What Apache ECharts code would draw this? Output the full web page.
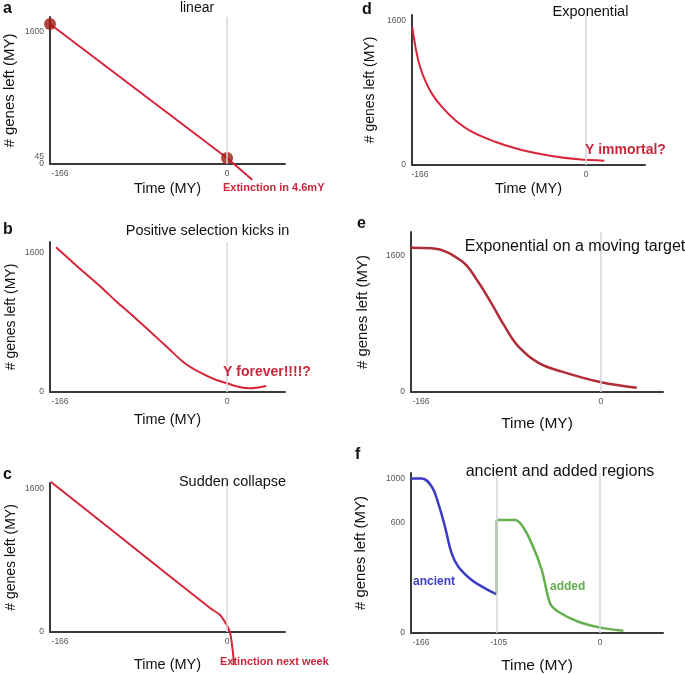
<!DOCTYPE html>
<html>
<head>
<meta charset="utf-8">
<script src="https://cdn.jsdelivr.net/npm/echarts@6/dist/echarts.min.js"></script>
<style>html,body{margin:0;padding:0;background:#fff}#c{width:685px;height:674px}</style>
</head>
<body>
<div id="c"></div>
<script>
// ---------- data ----------
// a: linear
const aTime  = [-176, 0, 25];
const aGenes = [1697, 72, -190];
const aDotTime  = [-176, 0];
const aDotGenes = [1697, 72];
// b: positive selection
const bTime  = [-170, -150, -126, -110, -93, -76, -60, -43, -27, -13, 0, 12, 23, 39];
const bGenes = [1665, 1457, 1215, 1041, 870, 690, 521, 340, 225, 150, 100, 58, 43, 69];
// c: sudden collapse
const cTime  = [-175.3, -100, -16.9, -7.0, -0.3, 3.0, 4.7, 6.3, 6.5];
const cGenes = [1681, 1010, 268, 190, 78, -11, -123, -280, -369];
// d: exponential
const dTime  = [-173.7, -171.7, -169.3, -166, -161, -154.3, -144.3, -131, -114.3, -91, -64.3, -34.3, -7.7, 18.3];
const dGenes = [1530, 1389, 1241, 1092, 944, 796, 648, 500, 370, 259, 167, 100, 63, 48];
// e: exponential on a moving target
const eTime  = [-175.5, -156, -128.5, -113, -101, -88.6, -76, -58, -36, 0, 33];
const eGenes = [1697, 1690, 1540, 1290, 1043, 768, 533, 345, 239, 114, 51];
// f: ancient and added regions
const fAncTime  = [-175.6, -165.4, -156, -150, -143.8, -137.6, -131.4, -119, -106.7, -95.8];
const fAncGenes = [1004, 1004, 950, 842, 690, 517, 431, 344, 290, 251];
const fJumpTime  = [-95.8, -95.8];
const fJumpGenes = [251, 734];
const fAddTime  = [-95.8, -78.8, -72.6, -63.4, -54, -46.4, -38.7, -20.1, 0.6, 21.6];
const fAddGenes = [734, 734, 701, 582, 409, 193, 138, 73, 35, 15];
// reference (vertical) lines
const refLinesMain = [0];
const refLinesF = [-95.8, 0];
// tick labels
const xTicks = [-166, 0];
const xTickLabels = ['-166', '0'];
const yTicks = [0, 1600];
const yTickLabels = ['0', '1600'];
const aExtraYTicks = [45];
const aExtraYTickLabels = ['45'];
const fXTicks = [-166, -94, 0];
const fXTickLabels = ['-166', '-105', '0'];
const fYTicks = [0, 714, 1000];
const fYTickLabels = ['0', '600', '1000'];

// ---------- layout ----------
const FONT = '"Liberation Sans", Arial, Helvetica, sans-serif';
const RED = '#d8253a';
const zip = (a, b) => a.map((v, i) => [v, b[i]]);

const panels = [
  {grid:{left:50, top:17, width:235, height:147}, x:[-176,57.6], y:[0,1782], xt:xTicks, xl:xTickLabels, yt:yTicks, yl:yTickLabels, xGap:17, yGap:33, xName:14.5, yName:15},
  {grid:{left:50, top:242, width:235, height:150}, x:[-176,57.6], y:[0,1726], xt:xTicks, xl:xTickLabels, yt:yTicks, yl:yTickLabels, xGap:20, yGap:32, xName:14.5, yName:14},
  {grid:{left:50, top:483, width:235, height:149}, x:[-176,57.6], y:[0,1667], xt:xTicks, xl:xTickLabels, yt:yTicks, yl:yTickLabels, xGap:25, yGap:32, xName:14.5, yName:14},
  {grid:{left:412, top:15, width:233, height:150}, x:[-174,59], y:[0,1667], xt:xTicks, xl:xTickLabels, yt:yTicks, yl:yTickLabels, xGap:16, yGap:35, xName:14.5, yName:14},
  {grid:{left:411, top:232, width:252, height:160}, x:[-175.2,57.2], y:[0,1882], xt:xTicks, xl:xTickLabels, yt:yTicks, yl:yTickLabels, xGap:24, yGap:41, xName:15.5, yName:15},
  {grid:{left:411, top:473, width:252, height:160}, x:[-175.3,58.4], y:[0,1039], xt:fXTicks, xl:fXTickLabels, yt:fYTicks, yl:fYTickLabels, xGap:25, yGap:43, xName:15.5, yName:15}
];

const axisLineStyle = {color:'#3a3a3a', width:2};
const grids = panels.map(p => Object.assign({outerBoundsMode:'none', containLabel:false}, p.grid));
const xAxes = panels.map((p, i) => ({
  type:'value', gridIndex:i, min:p.x[0], max:p.x[1],
  axisLine:{show:true, onZero:false, lineStyle:axisLineStyle},
  axisTick:{show:false}, splitLine:{show:false},
  axisLabel:{customValues:p.xt, hideOverlap:false, formatter:v => p.xl[p.xt.indexOf(v)], color:'#555', fontSize:8.5, margin:5, fontFamily:FONT},
  name:'Time (MY)', nameLocation:'middle', nameGap:p.xGap,
  nameTextStyle:{fontSize:p.xName, color:'#111', fontFamily:FONT}
}));
const yAxes = panels.map((p, i) => ({
  type:'value', gridIndex:i, min:p.y[0], max:p.y[1],
  axisLine:{show:true, onZero:false, lineStyle:axisLineStyle},
  axisTick:{show:false}, splitLine:{show:false},
  axisLabel:{customValues:p.yt, hideOverlap:false, showMinLabel:true, showMaxLabel:true,
    formatter:v => p.yl[p.yt.indexOf(v)],
    color:'#555', fontSize:8.5, margin:6, fontFamily:FONT},
  name:'# genes left (MY)', nameLocation:'middle', nameGap:p.yGap,
  nameTextStyle:{fontSize:p.yName, color:'#111', fontFamily:FONT}
}));
// extra label "45" on panel a (separate axis so it is not hidden next to "0")
yAxes.push({
  type:'value', gridIndex:0, position:'left', min:panels[0].y[0], max:panels[0].y[1],
  axisLine:{show:false}, axisTick:{show:false}, splitLine:{show:false},
  axisLabel:{customValues:aExtraYTicks, hideOverlap:false,
    formatter:v => '{u|' + aExtraYTickLabels[aExtraYTicks.indexOf(v)] + '}',
    rich:{u:{padding:[0,0,7,0], fontSize:8.5, color:'#555', fontFamily:FONT}},
    color:'#555', fontSize:8.5, margin:6, fontFamily:FONT}
});

function refSeries(i, xs) {
  return {type:'line', xAxisIndex:i, yAxisIndex:i, data:[], z:1, silent:true,
    markLine:{silent:true, symbol:'none', label:{show:false}, animation:false,
      lineStyle:{color:'#d6d6de', width:1.5, type:'solid'},
      data:xs.map(x => ({xAxis:x}))}};
}
function curve(i, xs, ys, color, width, smooth) {
  return {type:'line', xAxisIndex:i, yAxisIndex:i, data:zip(xs, ys), symbol:'none', smooth:smooth,
    clip:false, z:3, lineStyle:{color:color, width:width}};
}

const series = [
  refSeries(0, refLinesMain), refSeries(1, refLinesMain), refSeries(2, refLinesMain),
  refSeries(3, refLinesMain), refSeries(4, refLinesMain), refSeries(5, refLinesF),
  curve(0, aTime, aGenes, RED, 2, false),
  {type:'scatter', xAxisIndex:0, yAxisIndex:0, data:zip(aDotTime, aDotGenes), symbolSize:12, clip:false, z:4,
    itemStyle:{color:'#a3170f'}},
  curve(1, bTime, bGenes, RED, 2, 0.3),
  curve(2, cTime, cGenes, RED, 2, 0.3),
  curve(3, dTime, dGenes, RED, 2, 0.4),
  curve(4, eTime, eGenes, '#b02c36', 2.5, 0.4),
  curve(5, fAncTime, fAncGenes, '#3b3bc6', 2.5, 0.4),
  curve(5, fJumpTime, fJumpGenes, '#66b04f', 2.5, false),
  curve(5, fAddTime, fAddGenes, '#66b04f', 2.5, 0.3)
];

function txt(text, x, y, size, opts) {
  opts = opts || {};
  const align = opts.align || 'left';
  return {type:'text', x:x, y:y, z:10, silent:true, style:{text:text, fill:opts.color || '#111',
    fontSize:size, fontWeight:opts.bold ? 'bold' : 'normal', fontFamily:FONT,
    textAlign:align, align:align, textVerticalAlign:'middle', verticalAlign:'middle'}};
}
const TXT_RED = '#c8283c';
const graphics = [
  txt('a', 3, 9, 16, {bold:true}),
  txt('b', 3, 230, 16, {bold:true}),
  txt('c', 3, 475, 16, {bold:true}),
  txt('d', 362, 10, 16, {bold:true}),
  txt('e', 357, 224, 16, {bold:true}),
  txt('f', 355, 455, 16, {bold:true}),
  txt('linear', 197, 8, 14, {align:'center'}),
  txt('Positive selection kicks in', 207.5, 231, 14.5, {align:'center'}),
  txt('Sudden collapse', 232.5, 481.5, 14.5, {align:'center'}),
  txt('Exponential', 590.5, 12, 14.5, {align:'center'}),
  txt('Exponential on a moving target', 575, 247, 16, {align:'center'}),
  txt('ancient and added regions', 560, 472, 16, {align:'center'}),
  txt('Extinction in 4.6mY', 223, 188, 11, {bold:true, color:TXT_RED}),
  txt('Y immortal?', 585, 150, 14, {bold:true, color:TXT_RED}),
  txt('Y forever!!!!?', 223, 372, 14, {bold:true, color:TXT_RED}),
  txt('Extinction next week', 220, 662, 11, {bold:true, color:TXT_RED}),
  txt('ancient', 413, 582, 12, {bold:true, color:'#3c3cc4'}),
  txt('added', 550, 587, 12, {bold:true, color:'#62ad4e'})
];

const chart = echarts.init(document.getElementById('c'), null, {renderer:'canvas'});
chart.setOption({
  backgroundColor:'#fff',
  animation:false,
  grid:grids, xAxis:xAxes, yAxis:yAxes, series:series, graphic:graphics
});
</script>
</body>
</html>
